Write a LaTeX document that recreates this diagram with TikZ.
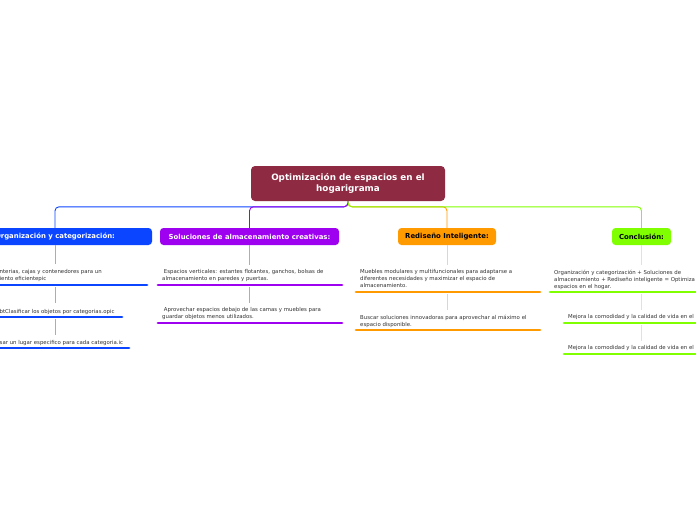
\documentclass[tikz,border=0pt]{standalone}
\usepackage{fontspec}
\setmainfont{DejaVu Sans}
\definecolor{cmain}{HTML}{8E2A42}
\definecolor{cblue}{HTML}{0B45FF}
\definecolor{cpurple}{HTML}{9E00F0}
\definecolor{corange}{HTML}{FF9A00}
\definecolor{cgreen}{HTML}{80FF00}
\definecolor{ctext}{HTML}{333333}
\tikzset{
  mainbox/.style={fill=cmain, rounded corners=4pt, text=white, font=\bfseries\fontsize{8.8}{11}\selectfont, align=center, minimum width=194pt, minimum height=35pt, inner sep=2pt},
  branchbox/.style={rounded corners=3.5pt, font=\bfseries\fontsize{6.9}{8}\selectfont, minimum height=17pt, inner sep=1pt},
  subtext/.style={anchor=north west, align=left, inner sep=0pt, text=ctext, font=\fontsize{5.4}{7}\selectfont},
  ubar/.style={line width=2.8pt, line cap=round},
  link/.style={line width=0.9pt, rounded corners=4pt},
  sublink/.style={line width=0.9pt}
}
\begin{document}
\begin{tikzpicture}[x=1pt,y=-1pt]
\useasboundingbox[fill=white] (0,0) rectangle (696,520);

% central node
\node[mainbox] (c) at (348,183.5) {Optimización de espacios en el\\hogarigrama};

% branch boxes
\node[branchbox, fill=cblue, text=white, minimum width=194pt] (b1) at (55,236.5) {Organización y categorización:};
\node[branchbox, fill=cpurple, text=white, minimum width=179pt] (b2) at (249.5,236.5) {Soluciones de almacenamiento creativas:};
\node[branchbox, fill=corange, text=black, minimum width=98pt] (b3) at (447,236.5) {Rediseño Inteligente:};
\node[branchbox, fill=cgreen, text=black, minimum width=59pt] (b4) at (641.5,236.5) {Conclusión:};

% main connectors
\draw[link, cblue] (c.south) |- ([yshift=21pt]b1.north) -- (b1.north);
\draw[link, corange] (c.south) |- ([yshift=21pt]b3.north) -- (b3.north);
\draw[link, cpurple] (c.south) |- ([yshift=21pt]b2.north) -- (b2.north);
\draw[link, cgreen] (c.south) |- ([yshift=21pt]b4.north) -- (b4.north);

% ---- blue subtopics
\node[subtext] (s11) at (-0.5,269.5) {nterias, cajas y contenedores para un\\iento eficientepic};
\coordinate (u11a) at (-5,285); \coordinate (u11b) at (147,285); \coordinate (u11) at (55,285);
\node[subtext] (s12) at (-0.5,309) {btClasificar los objetos por categorias.opic};
\coordinate (u12a) at (-5,317); \coordinate (u12b) at (122,317); \coordinate (u12) at (55,317);
\node[subtext] (s13) at (-0.5,340) {sar un lugar especifico para cada categoria.ic};
\coordinate (u13a) at (-5,348); \coordinate (u13b) at (129,348);
\draw[ubar, cblue] (u11a) -- (u11b);
\draw[ubar, cblue] (u12a) -- (u12b);
\draw[ubar, cblue] (u13a) -- (u13b);
\draw[sublink, cblue!45] (b1.south) -- (b1.south |- 0,264);
\draw[sublink, cblue!45] ([yshift=-2pt]u11) -- (u11 |- 0,303);
\draw[sublink, cblue!45] ([yshift=-2pt]u12) -- (u12 |- 0,335);

% ---- purple subtopics
\node[subtext] (s21) at (162,269.5) {\ Espacios verticales: estantes flotantes, ganchos, bolsas de\\almacenamiento en paredes y puertas.};
\coordinate (u21a) at (158,285); \coordinate (u21b) at (342,285); \coordinate (u21) at (249.5,285);
\node[subtext] (s22) at (162,307.5) {\ Aprovechar espacios debajo de las camas y muebles para\\guardar objetos menos utilizados.};
\coordinate (u22a) at (158,323); \coordinate (u22b) at (342,323);
\draw[ubar, cpurple] (u21a) -- (u21b);
\draw[ubar, cpurple] (u22a) -- (u22b);
\draw[sublink, cpurple!45] (b2.south) -- (b2.south |- 0,265);
\draw[sublink, cpurple!45] ([yshift=-2pt]u21) -- (u21 |- 0,303);

% ---- orange subtopics
\node[subtext] (s31) at (360,269.5) {Muebles modulares y multifuncionales para adaptarse a\\diferentes necesidades y maximizar el espacio de\\almacenamiento.};
\coordinate (u31a) at (356,292); \coordinate (u31b) at (540,292); \coordinate (u31) at (447,292);
\node[subtext] (s32) at (360,314.5) {Buscar soluciones innovadoras para aprovechar al máximo el\\espacio disponible.};
\coordinate (u32a) at (356,330); \coordinate (u32b) at (540,330);
\draw[ubar, corange] (u31a) -- (u31b);
\draw[ubar, corange] (u32a) -- (u32b);
\draw[sublink, corange!45] (b3.south) -- (b3.south |- 0,265);
\draw[sublink, corange!45] ([yshift=-2pt]u31) -- (u31 |- 0,310);

% ---- green subtopics
\node[subtext] (s41) at (554,269.5) {Organización y categorización + Soluciones de\\almacenamiento + Rediseño inteligente = Optimiza\\espacios en el hogar.};
\coordinate (u41a) at (550,292); \coordinate (u41b) at (700,292); \coordinate (u41) at (641.5,292);
\node[subtext] (s42) at (568,314.5) {Mejora la comodidad y la calidad de vida en el};
\coordinate (u42a) at (564,323); \coordinate (u42b) at (700,323); \coordinate (u42) at (641.5,323);
\node[subtext] (s43) at (568,345.5) {Mejora la comodidad y la calidad de vida en el};
\coordinate (u43a) at (564,354); \coordinate (u43b) at (700,354);
\draw[ubar, cgreen] (u41a) -- (u41b);
\draw[ubar, cgreen] (u42a) -- (u42b);
\draw[ubar, cgreen] (u43a) -- (u43b);
\draw[sublink, cgreen!45] (b4.south) -- (b4.south |- 0,265);
\draw[sublink, cgreen!45] ([yshift=-2pt]u41) -- (u41 |- 0,310);
\draw[sublink, cgreen!45] ([yshift=-2pt]u42) -- (u42 |- 0,341);
\end{tikzpicture}
\end{document}
